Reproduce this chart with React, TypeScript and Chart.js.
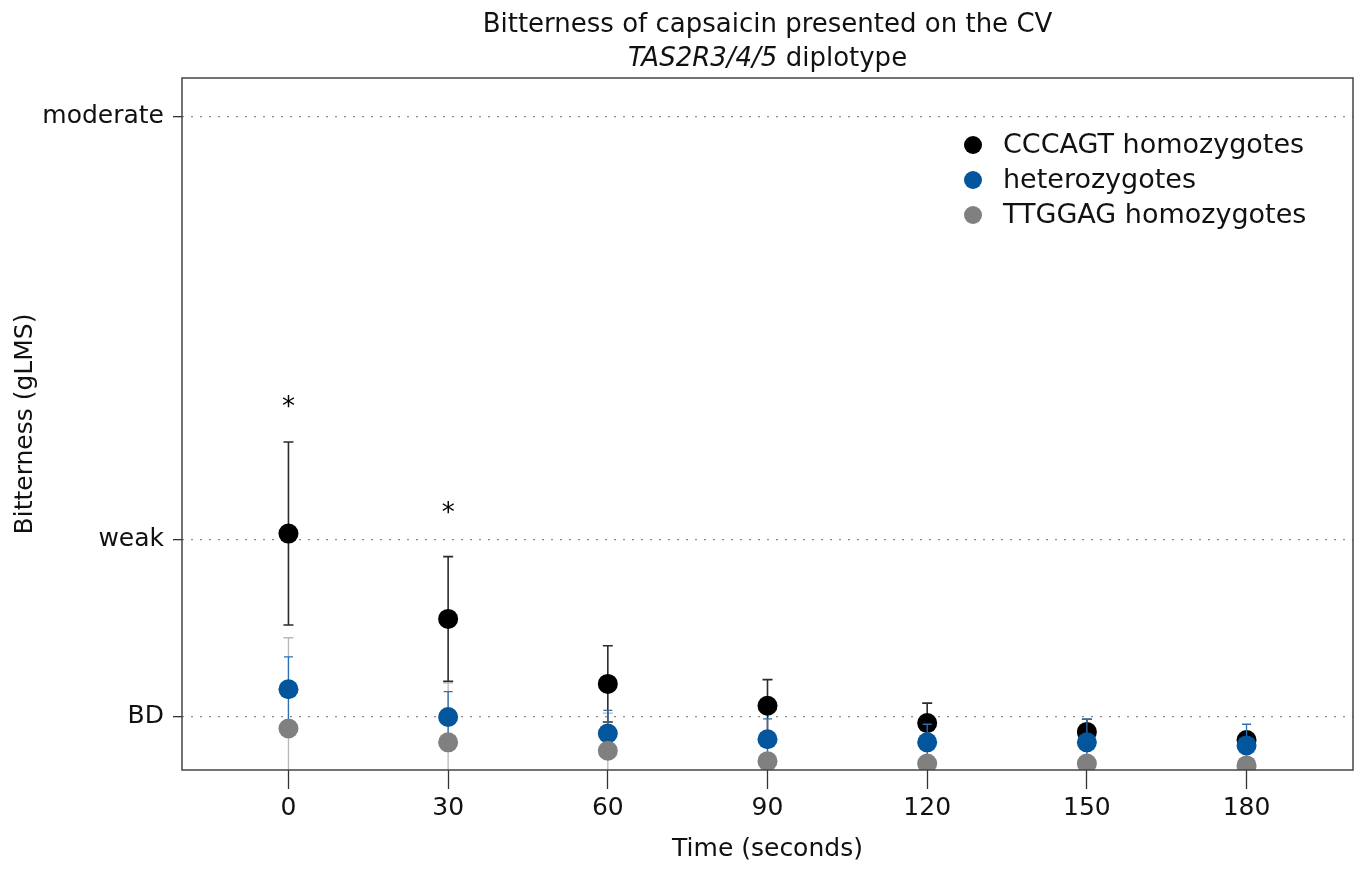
import React, { useEffect, useRef } from "react";
import { Chart, registerables } from "chart.js";

Chart.register(...registerables);

// ---------------- data ----------------
const timePoints = [0, 30, 60, 90, 120, 150, 180];
const seriesLabels = ["CCCAGT homozygotes", "heterozygotes", "TTGGAG homozygotes"];
const cccagtMean = [6.15, 3.93, 2.24, 1.67, 1.22, 0.99, 0.78];
const cccagtErr = [2.38, 1.62, 0.99, 0.68, 0.52, 0.33, 0.2];
const heteroMean = [2.1, 1.38, 0.95, 0.8, 0.72, 0.72, 0.64];
const heteroErr = [0.84, 0.66, 0.6, 0.53, 0.47, 0.6, 0.55];
const ttggagMean = [1.08, 0.72, 0.5, 0.23, 0.17, 0.17, 0.12];
const ttggagErr = [2.36, 1.55, 0.98, 0.6, 0.5, 0.5, 0.45];
const starTimes = [0, 30];
const starValues = [9.6, 6.85];
const yTickValues = [1.4, 6, 17];
const yTickLabels = ["BD", "weak", "moderate"];
const xTickValues = [0, 30, 60, 90, 120, 150, 180];

const titleLine1 = "Bitterness of capsaicin presented on the CV";
const titleLine2Italic = "TAS2R3/4/5";
const titleLine2Rest = " diplotype";
const xAxisTitle = "Time (seconds)";
const yAxisTitle = "Bitterness (gLMS)";

// ---------------- styles ----------------
const FONT = "'DejaVu Sans', 'Liberation Sans', Arial, sans-serif";
const seriesMeans = [cccagtMean, heteroMean, ttggagMean];
const seriesErrs = [cccagtErr, heteroErr, ttggagErr];
const seriesColors = ["#000000", "#04569c", "#808080"];
const errColors = ["#2b2b2b", "#2f6fb0", "#b8b8b8"];
const errWidths = [1.6, 1.3, 1.3];
const capHalf = [5, 4.5, 5];

function drawErrorBars(chart: any, i: number) {
  const { ctx, chartArea } = chart;
  const xs = chart.scales.x;
  const ys = chart.scales.y;
  ctx.save();
  ctx.beginPath();
  ctx.rect(chartArea.left, chartArea.top, chartArea.right - chartArea.left, chartArea.bottom - chartArea.top);
  ctx.clip();
  ctx.strokeStyle = errColors[i];
  ctx.lineWidth = errWidths[i];
  const means = seriesMeans[i];
  const errs = seriesErrs[i];
  for (let j = 0; j < timePoints.length; j++) {
    const px = xs.getPixelForValue(timePoints[j]);
    const yTop = ys.getPixelForValue(means[j] + errs[j]);
    const yBot = ys.getPixelForValue(means[j] - errs[j]);
    ctx.beginPath();
    ctx.moveTo(px, yTop);
    ctx.lineTo(px, yBot);
    ctx.moveTo(px - capHalf[i], yTop);
    ctx.lineTo(px + capHalf[i], yTop);
    ctx.moveTo(px - capHalf[i], yBot);
    ctx.lineTo(px + capHalf[i], yBot);
    ctx.stroke();
  }
  ctx.restore();
}

const errorBarPlugin = {
  id: "errorBars",
  beforeDatasetsDraw(chart: any) {
    drawErrorBars(chart, 2);
  },
  beforeDatasetDraw(chart: any, args: any) {
    if (args.index !== 2) drawErrorBars(chart, args.index);
  },
};

const decorPlugin = {
  id: "decor",
  afterDatasetsDraw(chart: any) {
    const { ctx } = chart;
    const xs = chart.scales.x;
    const ys = chart.scales.y;
    ctx.save();
    ctx.fillStyle = "#000";
    ctx.font = `26px ${FONT}`;
    ctx.textAlign = "center";
    ctx.textBaseline = "alphabetic";
    for (let k = 0; k < starTimes.length; k++) {
      const px = xs.getPixelForValue(starTimes[k]);
      const py = ys.getPixelForValue(starValues[k]);
      ctx.fillText("*", px, py + 14.5);
    }
    ctx.restore();
  },
  afterDraw(chart: any) {
    const { ctx, chartArea } = chart;
    ctx.save();
    // box
    ctx.strokeStyle = "#444";
    ctx.lineWidth = 1.5;
    ctx.strokeRect(chartArea.left, chartArea.top, chartArea.right - chartArea.left, chartArea.bottom - chartArea.top);

    // title
    const cx = (chartArea.left + chartArea.right) / 2;
    ctx.fillStyle = "#111";
    ctx.textBaseline = "alphabetic";
    ctx.textAlign = "center";
    ctx.font = `26px ${FONT}`;
    ctx.fillText(titleLine1, cx, 32);
    ctx.font = `italic 26px ${FONT}`;
    const wI = ctx.measureText(titleLine2Italic).width;
    ctx.font = `26px ${FONT}`;
    const wR = ctx.measureText(titleLine2Rest).width;
    const x0 = cx - (wI + wR) / 2;
    ctx.textAlign = "left";
    ctx.font = `italic 26px ${FONT}`;
    ctx.fillText(titleLine2Italic, x0, 66);
    ctx.font = `26px ${FONT}`;
    ctx.fillText(titleLine2Rest, x0 + wI, 66);

    // legend
    const lx = chartArea.right - 380;
    ctx.font = `27px ${FONT}`;
    ctx.textBaseline = "middle";
    ctx.textAlign = "left";
    for (let i = 0; i < seriesLabels.length; i++) {
      const ly = chartArea.top + 67 + i * 35;
      ctx.beginPath();
      ctx.fillStyle = seriesColors[i];
      ctx.arc(lx, ly, 9, 0, Math.PI * 2);
      ctx.fill();
      ctx.fillStyle = "#111";
      ctx.fillText(seriesLabels[i], lx + 30, ly + 1);
    }
    ctx.restore();
  },
};

export default function App() {
  const ref = useRef<HTMLCanvasElement>(null);
  useEffect(() => {
    document.body.style.margin = "0";
    const canvas = ref.current!;
    const chart = new Chart(canvas, {
      type: "scatter",
      data: {
        datasets: seriesLabels.map((label, i) => ({
          label,
          data: timePoints.map((t, j) => ({ x: t, y: seriesMeans[i][j] })),
          backgroundColor: seriesColors[i],
          borderColor: seriesColors[i],
          pointBackgroundColor: seriesColors[i],
          pointRadius: 10,
          pointBorderWidth: 0,
          pointHoverRadius: 10,
          showLine: false,
          order: 3 - i,
          clip: 0,
        })),
      },
      options: {
        responsive: false,
        devicePixelRatio: 1,
        animation: false,
        events: [],
        layout: { padding: { top: 78, right: 10, left: 0, bottom: 0 } },
        plugins: {
          legend: { display: false },
          title: { display: false },
          tooltip: { enabled: false },
        },
        scales: {
          x: {
            type: "linear",
            min: -20,
            max: 200,
            afterBuildTicks: (scale: any) => {
              scale.ticks = xTickValues.map((v) => ({ value: v }));
            },
            afterFit: (scale: any) => {
              scale.height = 103;
            },
            ticks: {
              color: "#111",
              font: { family: FONT, size: 25 },
              padding: 4,
              maxRotation: 0,
              autoSkip: false,
              callback: (v: any) => String(v),
            },
            grid: {
              drawOnChartArea: false,
              drawTicks: true,
              tickLength: 19,
              tickColor: "#333",
              tickWidth: 1.3,
            },
            border: { display: false },
            title: {
              display: true,
              text: xAxisTitle,
              color: "#111",
              font: { family: FONT, size: 25 },
              padding: { top: 0, bottom: 9 },
            },
          },
          y: {
            type: "linear",
            min: 0,
            max: 18,
            afterBuildTicks: (scale: any) => {
              scale.ticks = yTickValues.map((v) => ({ value: v }));
            },
            afterFit: (scale: any) => {
              scale.width = 182;
            },
            ticks: {
              color: "#111",
              font: { family: FONT, size: 25 },
              padding: 9,
              autoSkip: false,
              callback: (_v: any, idx: number) => yTickLabels[idx],
            },
            grid: {
              color: "#8a8a8a",
              lineWidth: 1.3,
              drawTicks: true,
              tickLength: 9,
              tickColor: "#333",
              tickWidth: 1.3,
              tickBorderDash: [],
              borderDash: [2, 7],
            } as any,
            border: { display: false, dash: [2, 7] },
            title: {
              display: true,
              text: yAxisTitle,
              color: "#111",
              font: { family: FONT, size: 25 },
              padding: { top: 10, bottom: 0 },
            },
          },
        },
      },
      plugins: [errorBarPlugin, decorPlugin],
    } as any);
    return () => chart.destroy();
  }, []);
  return (
    <div style={{ position: "absolute", left: 0, top: 0, width: 1363, height: 873, background: "#fff" }}>
      <canvas ref={ref} width={1363} height={873} style={{ display: "block" }} />
    </div>
  );
}
